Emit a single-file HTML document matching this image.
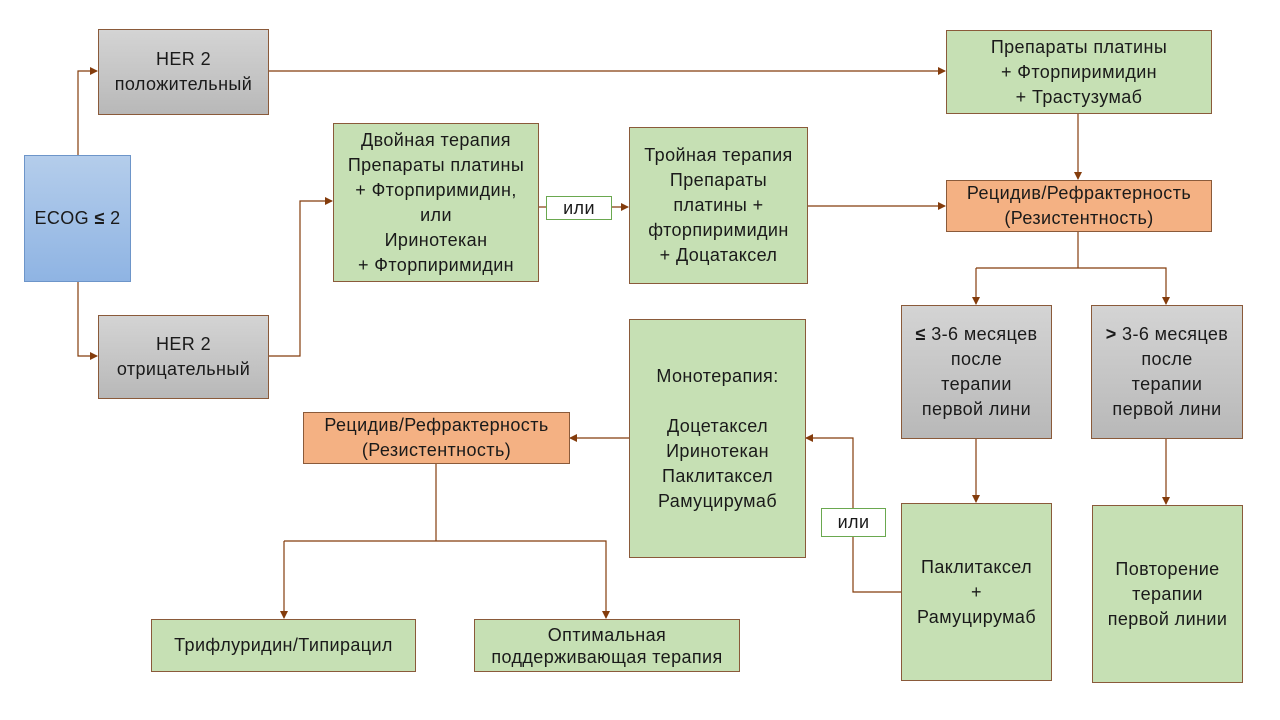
<!DOCTYPE html>
<html><head><meta charset="utf-8"><style>
body{margin:0;width:1280px;height:720px;background:#fff;position:relative;overflow:hidden;font-family:"Liberation Sans","DejaVu Sans",sans-serif;font-size:18px;letter-spacing:0.4px;color:#1a1a1a}
.b{position:absolute;box-sizing:border-box;border:1px solid #8a5a3a;display:flex;align-items:center;justify-content:center;text-align:center;line-height:25px;white-space:nowrap}
.g{background:#c6e0b4}
.gr{background:linear-gradient(#d4d4d4,#b8b8b8)}
.o{background:#f4b183}
.bl{background:linear-gradient(#b4cdeb,#8fb4e3);border-color:#6d95c9}
.w{background:#fff;border-color:#6aa84f}
svg{position:absolute;left:0;top:0}
</style></head><body>
<svg width="1280" height="720"><defs><marker id="a" markerWidth="8" markerHeight="8" refX="7" refY="4" orient="auto" markerUnits="userSpaceOnUse"><path d="M0,0 L8,4 L0,8z" fill="#843c0c"/></marker></defs>
<g stroke="#843c0c" stroke-width="1.2" fill="none">
<polyline points="78,155 78,71 97,71" marker-end="url(#a)"/>
<polyline points="78,281 78,356 97,356" marker-end="url(#a)"/>
<polyline points="268,71 945,71" marker-end="url(#a)"/>
<polyline points="268,356 300,356 300,201 332,201" marker-end="url(#a)"/>
<polyline points="538,207 546,207"/>
<polyline points="611,207 628,207" marker-end="url(#a)"/>
<polyline points="807,206 945,206" marker-end="url(#a)"/>
<polyline points="1078,113 1078,179" marker-end="url(#a)"/>
<polyline points="1078,231 1078,268"/>
<polyline points="976,268 1166,268 1166,304" marker-end="url(#a)"/>
<polyline points="976,268 976,304" marker-end="url(#a)"/>
<polyline points="976,438 976,502" marker-end="url(#a)"/>
<polyline points="1166,438 1166,504" marker-end="url(#a)"/>
<polyline points="901,592 853,592 853,438 806,438" marker-end="url(#a)"/>
<polyline points="629,438 570,438" marker-end="url(#a)"/>
<polyline points="436,463 436,541"/>
<polyline points="284,541 606,541 606,618" marker-end="url(#a)"/>
<polyline points="284,541 284,618" marker-end="url(#a)"/>
</g></svg>
<div class="b gr" style="left:98px;top:29px;width:171px;height:86px"><span>HER 2<br>положительный</span></div>
<div class="b bl" style="left:24px;top:155px;width:107px;height:127px"><span>ECOG <b>≤</b> 2</span></div>
<div class="b gr" style="left:98px;top:315px;width:171px;height:84px"><span>HER 2<br>отрицательный</span></div>
<div class="b g" style="left:333px;top:123px;width:206px;height:159px"><span>Двойная терапия<br>Препараты платины<br>+ Фторпиримидин,<br>или<br>Иринотекан<br>+ Фторпиримидин</span></div>
<div class="b w" style="left:546px;top:196px;width:66px;height:24px"><span>или</span></div>
<div class="b g" style="left:629px;top:127px;width:179px;height:157px"><span>Тройная терапия<br>Препараты<br>платины +<br>фторпиримидин<br>+ Доцатаксел</span></div>
<div class="b g" style="left:946px;top:30px;width:266px;height:84px"><span>Препараты платины<br>+ Фторпиримидин<br>+ Трастузумаб</span></div>
<div class="b o" style="left:946px;top:180px;width:266px;height:52px"><span>Рецидив/Рефрактерность<br>(Резистентность)</span></div>
<div class="b gr" style="left:901px;top:305px;width:151px;height:134px"><span><b>≤</b> 3-6 месяцев<br>после<br>терапии<br>первой лини</span></div>
<div class="b gr" style="left:1091px;top:305px;width:152px;height:134px"><span><b>&gt;</b> 3-6 месяцев<br>после<br>терапии<br>первой лини</span></div>
<div class="b g" style="left:901px;top:503px;width:151px;height:178px"><span>Паклитаксел<br>+<br>Рамуцирумаб</span></div>
<div class="b g" style="left:1092px;top:505px;width:151px;height:178px"><span>Повторение<br>терапии<br>первой линии</span></div>
<div class="b g" style="left:629px;top:319px;width:177px;height:239px"><span>Монотерапия:<br><br>Доцетаксел<br>Иринотекан<br>Паклитаксел<br>Рамуцирумаб</span></div>
<div class="b w" style="left:821px;top:508px;width:65px;height:29px"><span>или</span></div>
<div class="b o" style="left:303px;top:412px;width:267px;height:52px"><span>Рецидив/Рефрактерность<br>(Резистентность)</span></div>
<div class="b g" style="left:151px;top:619px;width:265px;height:53px"><span>Трифлуридин/Типирацил</span></div>
<div class="b g" style="left:474px;top:619px;width:266px;height:53px;line-height:22px"><span>Оптимальная<br>поддерживающая терапия</span></div>
</body></html>
